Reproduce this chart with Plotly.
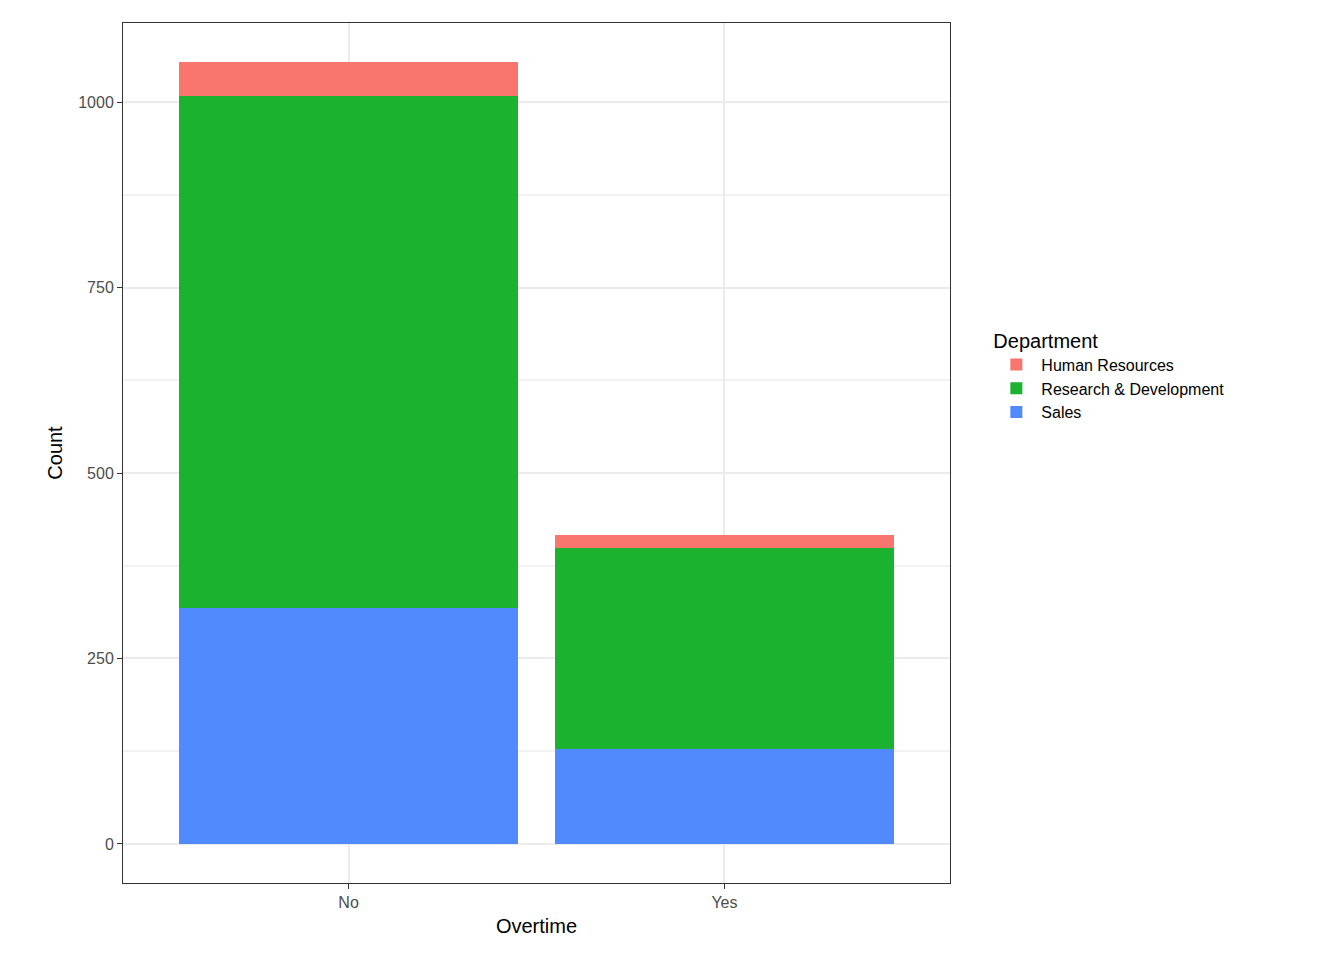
import plotly.graph_objs as go

overtime = ["No", "Yes"]
sales = [318, 128]
rnd = [690, 271]
hr = [46, 17]

colors = {"Human Resources": "#F8766D", "Research & Development": "#1AB22F", "Sales": "#518AFF"}

fig = go.Figure()
for name, vals in [("Sales", sales), ("Research & Development", rnd), ("Human Resources", hr)]:
    fig.add_trace(go.Bar(x=overtime, y=vals, name=name, marker=dict(color=colors[name], line_width=0), width=0.9))

axis_common = dict(showline=True, mirror=True, linecolor="#333333", linewidth=1,
                   gridcolor="#EBEBEB", gridwidth=1.5, ticks="outside", ticklen=5,
                   tickcolor="#333333", tickfont=dict(size=16, color="#4D4D4D"),
                   zeroline=False)

fig.update_layout(
    barmode="stack", width=1344, height=960,
    paper_bgcolor="white", plot_bgcolor="white",
    font=dict(family="Liberation Sans, Arial, sans-serif", color="black"),
    margin=dict(l=115, r=402, t=15, b=85),
    xaxis=dict(range=[-0.6, 1.6], title=dict(text="Overtime", font=dict(size=20), standoff=8), **axis_common),
    yaxis=dict(range=[-52.7, 1106.7], tickvals=[0, 250, 500, 750, 1000],
               title=dict(text="Count", font=dict(size=20), standoff=10),
               minor=dict(tickvals=[125, 375, 625, 875], showgrid=True, gridcolor="#F2F2F2", ticks=""),
               **axis_common),
    legend=dict(title=dict(text="Department", font=dict(size=20)), traceorder="reversed",
                x=1.05, xanchor="left", y=0.59, yanchor="middle", font=dict(size=16),
                itemwidth=40, tracegroupgap=8),
    bargap=0.1,
)
fig.write_html("out.html")
